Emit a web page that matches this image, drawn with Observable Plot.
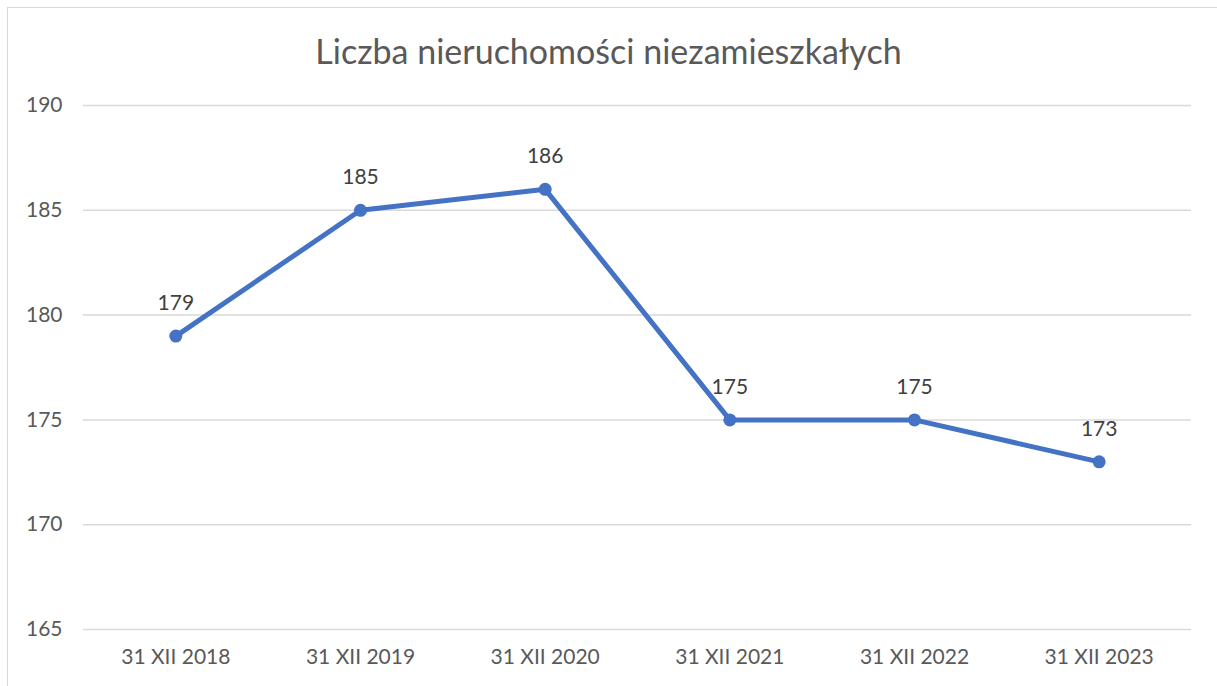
<!DOCTYPE html>
<html>
<head>
<meta charset="utf-8">
<script src="https://cdn.jsdelivr.net/npm/d3@7"></script>
<script src="https://cdn.jsdelivr.net/npm/@observablehq/plot@0.6"></script>
<style>
  html, body { margin: 0; padding: 0; background: #fff; }
  #wrap { position: relative; width: 1217px; height: 686px; overflow: hidden; }
  #frame { position: absolute; left: 7px; top: 7px; width: 1230px; height: 700px; border: 1.5px solid #d9d9d9; box-sizing: border-box; }
  #title { position: absolute; left: 0; width: 1217px; top: 30px; text-align: center; font-family: Lato, "Open Sans", sans-serif; font-size: 34px; color: #595959; }
  #chart { position: absolute; left: 0; top: 0; }
</style>
</head>
<body>
<div id="wrap">
  <div id="frame"></div>
  <div id="title">Liczba nieruchomości niezamieszkałych</div>
  <div id="chart"></div>
</div>
<script>
const categories = ["31 XII 2018", "31 XII 2019", "31 XII 2020", "31 XII 2021", "31 XII 2022", "31 XII 2023"];
const values = [179, 185, 186, 175, 175, 173];
const yTicks = [165, 170, 175, 180, 185, 190];

const data = categories.map((c, i) => ({cat: c, value: values[i]}));

const plot = Plot.plot({
  width: 1217,
  height: 686,
  marginLeft: 83,
  marginRight: 26,
  marginTop: 105,
  marginBottom: 57,
  style: { background: "transparent", fontFamily: "Lato, 'Open Sans', sans-serif", fontSize: "21px", color: "#595959" },
  x: { type: "point", domain: categories, padding: 0.5, round: false, label: null },
  y: { domain: [165, 190], ticks: yTicks, label: null },
  marks: [
    Plot.gridY(yTicks, { stroke: "#d9d9d9", strokeWidth: 1.5, strokeOpacity: 1 }),
    Plot.axisY(yTicks, { tickSize: 0, tickPadding: 21, fill: "#595959", fontSize: 21 }),
    Plot.axisX({ tickSize: 0, tickPadding: 20, fill: "#595959", fontSize: 21 }),
    Plot.line(data, { x: "cat", y: "value", stroke: "#4472C4", strokeWidth: 5, strokeLinejoin: "round" }),
    Plot.dot(data, { x: "cat", y: "value", r: 6.5, fill: "#4472C4", stroke: "none" }),
    Plot.text(data, { x: "cat", y: "value", text: d => String(d.value), dy: -33, fill: "#404040", fontSize: 21 })
  ]
});
document.getElementById("chart").appendChild(plot);
</script>
</body>
</html>
